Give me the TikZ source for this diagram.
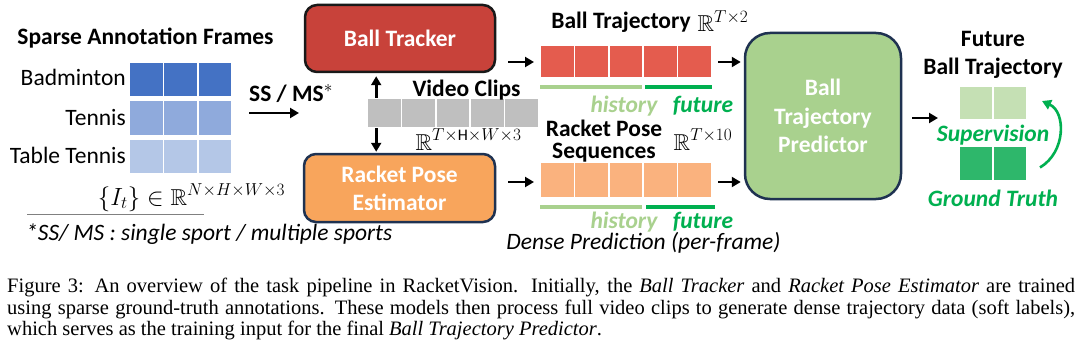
\documentclass[tikz,border=0pt]{standalone}
\usepackage{fontspec}
\usepackage{amssymb}
\setmainfont{Carlito}
\newfontfamily\capfont{Liberation Serif}
\usetikzlibrary{arrows.meta}
\definecolor{blueA}{HTML}{4472C4}
\definecolor{blueB}{HTML}{8FAADC}
\definecolor{blueC}{HTML}{B4C7E7}
\definecolor{trackred}{HTML}{C8423A}
\definecolor{trajred}{HTML}{E45C4E}
\definecolor{poseorange}{HTML}{F8A55C}
\definecolor{poselight}{HTML}{FAB27E}
\definecolor{clipgray}{HTML}{BFBFBF}
\definecolor{predfill}{HTML}{A9D18E}
\definecolor{navy}{HTML}{1F3251}
\definecolor{histgreen}{HTML}{A9D18E}
\definecolor{futgreen}{HTML}{00B050}
\definecolor{predcell}{HTML}{C5E0B4}
\definecolor{gtcell}{HTML}{2EB76B}
\begin{document}
\begin{tikzpicture}[x=1pt,y=-1pt,
  lbl/.style={inner sep=0pt, font=\fontsize{23.5}{27}\selectfont},
  blbl/.style={lbl, font=\fontsize{23.5}{27}\selectfont\bfseries},
  mlbl/.style={inner sep=0pt, font=\fontsize{23}{27}\selectfont},
  bigbox/.style={draw=navy, line width=2.5pt, text=white, align=center,
     font=\fontsize{23.5}{28}\selectfont\bfseries, inner sep=0pt},
  cell/.style={draw=white, line width=1.6pt, inner sep=0pt, minimum width=34.4, minimum height=32},
  arr/.style={line width=2.6pt, -{Triangle[length=9pt,width=10pt]}},
  histline/.style={line width=4pt, histgreen},
  futline/.style={line width=4pt, futgreen},
  gitl/.style={lbl, anchor=base, font=\fontsize{23.5}{27}\selectfont\bfseries\itshape}]
\useasboundingbox[fill=white] (0,0) rectangle (1080,345);

% ---------- left: sparse annotation frames ----------
\node[blbl, anchor=base] (sparsetitle) at (145.5,45) {Sparse Annotation Frames};
\foreach \c [count=\r from 0] in {blueA,blueB,blueC}{
  \foreach \j in {0,1,2}{
    \node[cell, fill=\c, minimum height=35] (g\r\j) at (129+17.2+34.4*\j, 79.5+38.5*\r) {};
  }
}
\node[lbl, anchor=base east] (lbad) at (126,86) {Badminton};
\node[lbl, anchor=base east] (lten) at (126,125) {Tennis};
\node[lbl, anchor=base east] (ltt) at (126,163) {Table Tennis};
\node[mlbl, anchor=base] (setmath) at (191.5,205) {$\{I_t\}\in\mathbb{R}^{N\times H\times W\times 3}$};
\coordinate (ruleL) at (27,214);
\coordinate (ruleR) at (204,214);
\draw[gray, line width=0.8pt] (ruleL) -- (ruleR);
\node[lbl, anchor=base west, font=\fontsize{23.5}{27}\selectfont\itshape] (foot) at (26,240) {*SS/ MS : single sport / multiple sports};

% SS/MS arrow
\node[blbl, anchor=base west] (ssms) at (249,102) {SS / MS$^{*}$};
\coordinate (ssA) at (249,113);
\coordinate (ssB) at (299,113);
\draw[arr] (ssA) -- (ssB);

% ---------- boxes ----------
\node[bigbox, draw=black!90, fill=trackred, rounded corners=12pt, minimum width=190, minimum height=67] (tracker) at (400,38.5) {Ball Tracker};
\node[bigbox, fill=poseorange, rounded corners=12pt, minimum width=191, minimum height=68] (pose) at (399.5,188) {Racket Pose\\Estimator};

% video clips
\foreach \j in {0,...,4}{
  \node[cell, fill=clipgray, minimum height=29] (v\j) at (367+17.2+34.4*\j, 113) {};
}
\node[blbl, anchor=base] (vclab) at (466.5,96) {Video Clips};
\node[mlbl, anchor=base] (vcmath) at (468.5,150) {$\mathbb{R}^{T\times\mathrm{H}\times W\times 3}$};
\draw[arr] ([xshift=-8pt]v0.north) -- ([xshift=-8pt]v0.north |- tracker.south) [shorten >=3pt];
\draw[arr] ([xshift=-8pt]v0.south) -- ([xshift=-8pt]v0.south |- pose.north) [shorten >=1pt];

% ---------- trajectories ----------
\node[blbl, anchor=base] (btlab) at (621,29) {Ball Trajectory};
\node[mlbl, anchor=base] (btmath) at (723,32) {$\mathbb{R}^{T\times 2}$};
\foreach \j in {0,...,4}{
  \node[cell, fill=trajred] (t\j) at (540+17.2+34.4*\j, 61.5) {};
  \node[cell, fill=poselight, minimum height=35] (p\j) at (540+17.2+34.4*\j, 180) {};
}
\coordinate (h1a) at (540,87); \coordinate (h1b) at (642,87);
\coordinate (f1a) at (645,87); \coordinate (f1b) at (712,87);
\draw[histline] (h1a) -- (h1b);
\draw[futline] (f1a) -- (f1b);
\coordinate (h2a) at (540,207); \coordinate (h2b) at (642,207);
\coordinate (f2a) at (646,207); \coordinate (f2b) at (715,207);
\draw[histline] (h2a) -- (h2b);
\draw[futline] (f2a) -- (f2b);
\node[gitl, text=histgreen] (hist1) at (624,113) {history};
\node[gitl, text=futgreen] (fut1) at (703,113) {future};
\node[gitl, text=histgreen] (hist2) at (624,228) {history};
\node[gitl, text=futgreen] (fut2) at (703,228) {future};
\node[blbl, align=center, font=\fontsize{23.5}{22}\selectfont\bfseries] (rplab) at (604,141) {Racket Pose\\Sequences};
\node[mlbl, anchor=base] (rpmath) at (703,150) {$\mathbb{R}^{T\times 10}$};
\node[lbl, anchor=base, font=\fontsize{23.5}{27}\selectfont\itshape] (dense) at (643.5,249.5) {Dense Prediction (per-frame)};

\coordinate (ta) at (508,62); \coordinate (tb) at (534,62);
\coordinate (pa) at (508,182); \coordinate (pb) at (534,182);
\draw[arr] (ta) -- (tb);
\draw[arr] (pa) -- (pb);

% ---------- predictor ----------
\node[bigbox, fill=predfill, rounded corners=25pt, minimum width=156, minimum height=166, font=\fontsize{23.5}{28.5}\selectfont\bfseries] (pred) at (823,116) {Ball\\Trajectory\\Predictor};
\coordinate (ta2) at (718,62);
\coordinate (pa2) at (718,182);
\draw[arr] (ta2) -- ([xshift=-3pt]pred.west |- ta2);
\draw[arr] (pa2) -- ([xshift=-3pt]pred.west |- pa2);

% ---------- output ----------
\node[blbl, anchor=base] (futlab) at (993,46.7) {Future};
\node[blbl, anchor=base] (fbtlab) at (993,75) {Ball Trajectory};
\foreach \j in {0,1}{
  \node[cell, fill=predcell, minimum height=34] (o\j) at (959+17+34*\j, 103) {};
  \node[cell, fill=gtcell, minimum height=35] (gt\j) at (959+17+34*\j, 163.5) {};
}
\coordinate (oa) at (912,118);
\draw[arr] (oa) -- ([xshift=-20pt]o0.west |- oa);
\node[gitl, text=futgreen] (sup) at (993,141.7) {Supervision};
\node[gitl, text=futgreen] (gtlab) at (993,206) {Ground Truth};
\draw[futgreen, line width=2.6pt, -{Triangle[length=9pt,width=10pt]}]
  ([xshift=12pt,yshift=-4pt]gt1.east) .. controls (1066,152) and (1066,112) .. ([xshift=14pt,yshift=2pt]o1.east);

% ---------- caption ----------
\node[anchor=north west, inner sep=0pt, text width=1068pt, align=justify,
  font=\capfont\fontsize{20.5}{21.5}\selectfont] (cap) at (7,278)
  {Figure 3: An overview of the task pipeline in RacketVision. Initially, the \textit{Ball Tracker} and \textit{Racket Pose Estimator} are trained\linebreak
   using sparse ground-truth annotations. These models then process full video clips to generate dense trajectory data (soft labels),\linebreak
   which serves as the training input for the final \textit{Ball Trajectory Predictor}.};
\end{tikzpicture}
\end{document}
